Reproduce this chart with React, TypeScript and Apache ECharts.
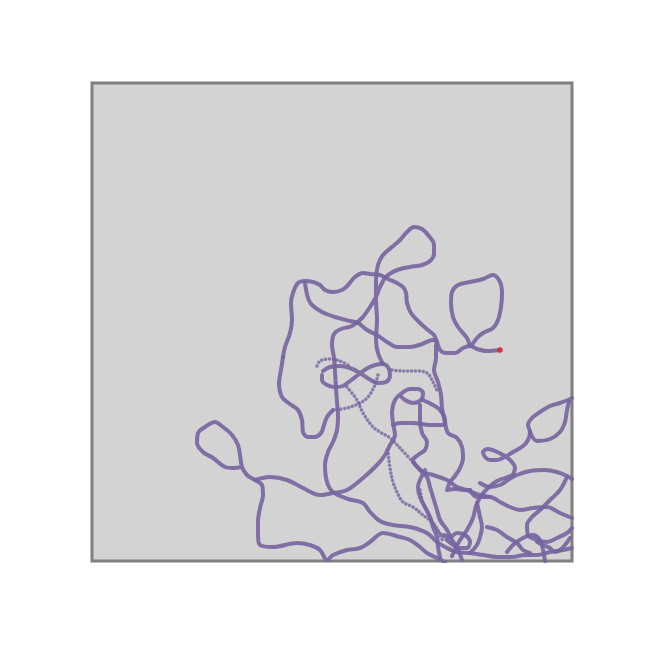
import React, { useEffect, useRef } from 'react';
import * as echarts from 'echarts';

// walk traced as strokes, [x, y] in plot units (x 0..480, y 0..478)
const mainPath = [[191,204],[193,214],[198,228],[200,241],[199,258],[201,268],[206,278],[213,280],[221,279],[228,276],[233,271],[240,269],[250,271],[256,276],[263,284],[271,288],[278,287],[288,286],[296,282],[305,278],[311,274],[314,268],[315,258],[319,248],[327,239],[336,231],[342,226],[345,219],[348,211],[354,208],[363,208],[371,213],[378,215],[385,212],[395,210],[408,211]];
const endLoop = [[378,215],[375,223],[366,234],[361,244],[359,258],[360,269],[366,276],[378,279],[391,282],[401,286],[408,279],[410,268],[409,254],[406,241],[401,233],[391,228],[385,223],[380,216]];
const leftDescent = [[191,204],[189,191],[187,178],[190,164],[198,157],[206,151],[210,141],[211,129],[216,124],[223,124],[229,128],[232,136],[235,144],[241,151]];
const leftRise = [[241,151],[255,153],[268,158],[276,164],[283,176],[286,186]];
const knot = [[230,186],[230,181],[235,176],[243,174],[251,175],[258,180],[266,186],[274,192],[283,196],[291,197],[297,192],[298,185],[294,179],[286,178],[277,182],[268,188],[258,193],[248,195],[238,194],[231,190]];
const knotTop = [[225,195],[228,200],[238,202],[248,200],[256,196]];
const knotLink = [[300,191],[311,190],[325,190],[335,188],[341,179],[346,168]];
const innerPath = [[213,278],[216,263],[220,256],[230,249],[243,244],[258,240],[266,238],[275,231],[285,226],[295,219],[305,214],[318,214],[330,217],[341,221],[345,219]];
const topLoop = [[291,197],[286,208],[284,221],[285,241],[284,261],[284,281],[286,296],[291,306],[300,314],[308,321],[315,329],[322,334],[330,332],[337,325],[342,316],[342,307],[338,300],[330,296],[318,294],[308,292],[299,288],[293,283],[288,274],[284,264],[278,254],[270,243],[260,235],[249,232],[242,227],[240,216],[242,203],[243,189],[244,173],[245,159],[246,145],[245,131],[241,119],[236,109],[233,96],[235,79],[241,69],[256,62],[271,58],[278,49],[288,40],[301,36],[318,34],[335,28],[345,19],[355,13],[365,9],[378,8],[391,6],[405,4],[420,4],[433,6],[445,6],[458,9],[471,11],[480,13]];
const westLoop = [[353,-1],[345,3],[335,8],[328,14],[318,21],[308,24],[291,28],[278,19],[268,13],[255,11],[241,6],[235,1],[228,11],[218,16],[205,18],[181,14],[168,16],[166,26],[166,39],[168,53],[171,66],[170,76],[163,81],[155,86],[150,94],[148,106],[146,116],[140,126],[131,134],[123,139],[113,134],[106,128],[105,118],[111,109],[121,103],[133,94],[141,93],[150,94]];
const middleRun = [[163,81],[178,84],[195,81],[211,73],[228,66],[241,68],[255,71],[271,83],[285,96],[293,106],[298,116],[303,126],[301,138],[300,149],[303,161],[310,168],[318,172],[326,172],[331,168],[329,161],[321,158],[313,161],[308,166]];
const sparseA = [[255,174],[265,161],[271,148],[281,134],[288,129],[298,123],[308,113],[321,99]];
const diagonalRun = [[321,99],[331,89],[341,86],[355,81],[365,74],[375,71],[388,66],[398,64]];
const sparseB = [[295,111],[296,109],[298,93],[301,79],[305,69],[311,59],[321,54],[331,46],[341,38],[348,28],[355,21]];
const sparseC = [[328,71],[331,58],[338,44],[343,34],[348,26],[351,19]];
const centreDrop = [[344,216],[344,203],[342,191],[346,179],[349,166],[350,153],[353,139],[356,128],[365,123],[370,114],[371,103],[368,93],[363,85],[358,79],[355,71],[363,72],[373,71],[378,71]];
const centreLoop = [[331,161],[341,156],[348,151],[353,141],[351,136],[338,136],[321,138],[308,138],[301,136]];
const centreWiggle = [[328,156],[328,141],[330,128],[335,119],[333,111],[326,106],[321,101],[328,91],[335,84],[338,74],[341,64],[345,51],[348,41],[355,31],[360,21],[365,14],[370,1]];
const centreSouth = [[333,91],[328,81],[326,74],[328,64],[333,54],[338,44],[341,34],[345,24],[346,14],[348,4]];
const smallKnot = [[352,26],[358,24],[365,28],[373,26],[378,19],[375,13],[366,13],[361,16],[355,21]];
const hook = [[421,86],[423,93],[418,101],[411,106],[403,110],[396,112],[391,109],[393,104],[398,101],[405,101],[413,104],[421,109],[431,115],[436,121],[438,129],[436,136],[440,143],[448,149],[458,155],[468,158],[476,161],[480,163]];
const eastLoop = [[438,129],[445,120],[458,122],[468,129],[473,139],[475,151],[477,159]];
const hookSouth = [[421,86],[413,83],[405,80],[396,73],[389,65],[384,55],[381,43],[375,31],[368,21],[364,13],[360,5]];
const eastBar = [[388,78],[398,74],[408,76],[416,81],[425,86],[438,90],[453,91],[465,89],[475,85],[480,82]];
const eastDrop = [[475,84],[468,71],[458,61],[448,51],[440,44],[435,36],[436,26],[445,21],[455,19],[465,23],[475,28],[480,33]];
const lowBar = [[378,71],[385,64],[398,64],[408,59],[418,54],[428,51],[441,53],[455,54],[468,48],[480,43]];
const lowWiggle = [[385,58],[388,44],[390,34],[388,24],[385,16],[378,8]];
const lowDiagonal = [[395,34],[405,31],[415,24],[425,18],[431,11],[438,8]];
const cornerA = [[415,9],[421,16],[431,23],[441,26],[448,21],[451,11],[453,0]];
const cornerB = [[445,19],[451,16],[458,13],[463,9],[468,11],[473,16],[478,23]];
const lastPoint = [[408,211]];

const solidStrokes = [mainPath, endLoop, leftDescent, knot, innerPath, topLoop, westLoop, middleRun, diagonalRun, centreDrop, centreLoop, centreWiggle, centreSouth, smallKnot, hook, eastLoop, hookSouth, eastBar, eastDrop, lowBar, lowWiggle, lowDiagonal, cornerA, cornerB];
const sparseStrokes = [leftRise, knotTop, knotLink, sparseA, sparseB, sparseC];

export default function App() {
  const ref = useRef<HTMLDivElement>(null);

  useEffect(() => {
    if (!ref.current) return;
    const chart = echarts.init(ref.current, undefined, { renderer: 'svg' });
    const purple = '#7564a0';
    const lineSeries = [
      ...solidStrokes.map((s) => ({
        type: 'line', data: s, smooth: 0.35, showSymbol: false, silent: true,
        lineStyle: { color: purple, width: 4, opacity: 0.9, cap: 'round', join: 'round' },
      })),
      ...sparseStrokes.map((s) => ({
        type: 'line', data: s, smooth: 0.35, showSymbol: false, silent: true,
        lineStyle: { color: purple, width: 3.5, opacity: 0.8, type: [0.1, 3.8], cap: 'round' },
      })),
    ];
    chart.setOption({
      animation: false,
      grid: {
        left: 84, top: 75, width: 480, height: 478, show: true,
        backgroundColor: '#d3d3d3', borderColor: '#808080', borderWidth: 3,
      },
      xAxis: { type: 'value', min: 0, max: 480, show: false },
      yAxis: { type: 'value', min: 0, max: 478, show: false },
      series: [
        ...lineSeries,
        { type: 'scatter', data: lastPoint, symbolSize: 6, itemStyle: { color: '#e0262b' }, z: 5 },
      ],
    });
    return () => chart.dispose();
  }, []);

  return <div ref={ref} style={{ width: 640, height: 640 }} />;
}
